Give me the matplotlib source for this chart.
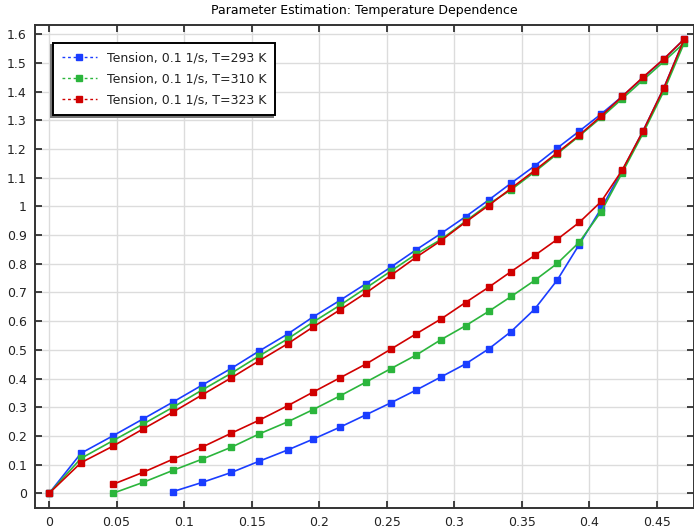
import matplotlib
matplotlib.use('Agg')
import matplotlib.pyplot as plt
from matplotlib.lines import Line2D
from matplotlib.ticker import MultipleLocator, FormatStrFormatter

# strain values of the load steps (shared by all curves)
strain = [0, 0.0237, 0.0471, 0.0695, 0.0917, 0.1133, 0.1351, 0.1556, 0.1766,
          0.1956, 0.2156, 0.2348, 0.2533, 0.2719, 0.2904, 0.3084, 0.3255,
          0.3422, 0.3596, 0.3763, 0.3926, 0.4089, 0.4244, 0.4398, 0.4553, 0.4704]

# loading branch
blue_load = [0, 0.140, 0.200, 0.259, 0.318, 0.377, 0.436, 0.496, 0.555, 0.615,
             0.673, 0.731, 0.789, 0.849, 0.906, 0.964, 1.022, 1.081, 1.141,
             1.203, 1.262, 1.322, 1.383, 1.448, 1.513, 1.583]
green_load = [0, 0.122, 0.183, 0.241, 0.300, 0.360, 0.419, 0.479, 0.538, 0.597,
              0.656, 0.716, 0.775, 0.834, 0.885, 0.948, 1.008, 1.058, 1.120,
              1.183, 1.245, 1.310, 1.375, 1.440, 1.505, 1.570]
red_load = [0, 0.107, 0.164, 0.224, 0.283, 0.343, 0.403, 0.462, 0.521, 0.580,
            0.640, 0.699, 0.760, 0.823, 0.881, 0.945, 1.003, 1.063, 1.125,
            1.187, 1.248, 1.315, 1.383, 1.450, 1.514, 1.583]

# unloading branch (increasing strain order), first step index
blue_start = 4
blue_unload = [0.006, 0.038, 0.073, 0.112, 0.151, 0.189, 0.231, 0.274, 0.316,
               0.360, 0.406, 0.451, 0.503, 0.564, 0.642, 0.743, 0.867, 0.993,
               1.124, 1.262, 1.413]
green_start = 2
green_unload = [0.0, 0.038, 0.080, 0.119, 0.161, 0.207, 0.249, 0.292, 0.340,
                0.388, 0.435, 0.482, 0.536, 0.584, 0.634, 0.686, 0.742, 0.801,
                0.875, 0.982, 1.117, 1.254, 1.402]
red_start = 2
red_unload = [0.031, 0.073, 0.119, 0.161, 0.210, 0.255, 0.305, 0.353, 0.403,
              0.451, 0.503, 0.556, 0.608, 0.665, 0.718, 0.773, 0.829, 0.885,
              0.944, 1.017, 1.126, 1.262, 1.413]

labels = ['Tension, 0.1 1/s, T=293 K', 'Tension, 0.1 1/s, T=310 K',
          'Tension, 0.1 1/s, T=323 K']
colors = ['#1a3dff', '#2bb53c', '#d00000']

series = [(blue_load, blue_unload, blue_start),
          (green_load, green_unload, green_start),
          (red_load, red_unload, red_start)]

fig = plt.figure(figsize=(6.94, 5.30), dpi=100)
ax = fig.add_axes([35 / 694, 22 / 530, 659 / 694, 483 / 530])

for (load, unload, start), c in zip(series, colors):
    xs = strain + strain[start:25][::-1]
    ys = load + unload[::-1]
    ax.plot(xs, ys, '-', color=c, lw=1.2, marker='s', ms=5, mec=c, mfc=c)

ax.set_xlim(-0.0104, 0.4776)
ax.set_ylim(-0.051, 1.632)
ax.xaxis.set_major_locator(MultipleLocator(0.05))
ax.yaxis.set_major_locator(MultipleLocator(0.1))
ax.xaxis.set_major_formatter(FormatStrFormatter('%g'))
ax.yaxis.set_major_formatter(FormatStrFormatter('%g'))
ax.grid(True, color='#dcdcdc', lw=1.0)
ax.set_axisbelow(True)
ax.tick_params(direction='in', length=5, width=1.2, top=True, right=True,
               labelsize=9, colors='#222222', pad=6)
for s in ax.spines.values():
    s.set_color('#333333')
    s.set_linewidth(1.4)

ax.set_title('Parameter Estimation: Temperature Dependence', fontsize=9,
             pad=8)

handles = [Line2D([], [], color=c, ls=(0, (2, 2)), lw=1.0, marker='s', ms=5)
           for c in colors]
leg = ax.legend(handles, labels, loc='upper left',
                bbox_to_anchor=(0.027, 0.963), borderaxespad=0, fontsize=9,
                fancybox=False, framealpha=1, edgecolor='black',
                handlelength=2.8, handletextpad=0.8, labelspacing=0.62,
                borderpad=0.7,
                shadow={'ox': -1.2, 'oy': -1.2, 'facecolor': '#777777',
                        'edgecolor': '#777777', 'alpha': 1})
leg.get_frame().set_linewidth(1.4)
for t in leg.get_texts():
    t.set_color('#222222')

fig.savefig('out.png', dpi=100)
